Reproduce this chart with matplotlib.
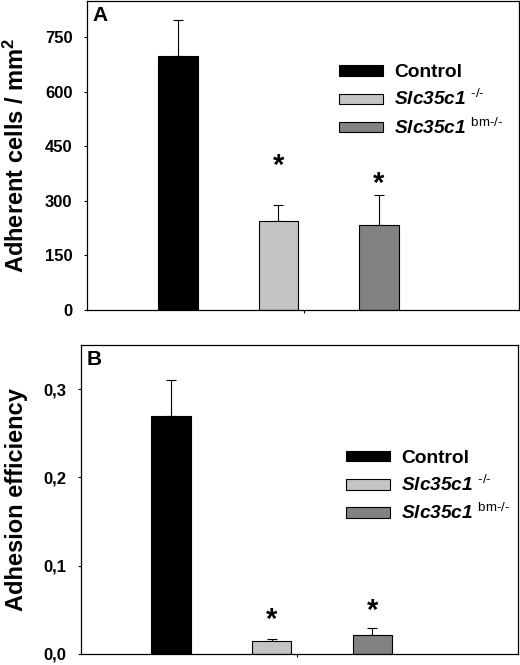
import matplotlib
matplotlib.use('Agg')
import matplotlib.pyplot as plt
from matplotlib.patches import Patch

plt.rcParams['font.family'] = 'Liberation Sans'
plt.rcParams['mathtext.fontset'] = 'custom'
plt.rcParams['mathtext.rm'] = 'Liberation Sans:italic:bold'
plt.rcParams['mathtext.it'] = 'Liberation Sans:italic:bold'
plt.rcParams['mathtext.bf'] = 'Liberation Sans:bold'
plt.rcParams['mathtext.sf'] = 'Liberation Sans'

groups = ['Control', '$Slc35c1$ $^{\\mathsf{\u2010/\u2010}}$', '$Slc35c1$ $^{\\mathsf{bm\u2010/\u2010}}$']
colors = ['black', '#c4c4c4', '#828282']

# panel A: adherent cells / mm2
cells = [698, 245, 235]
cells_err = [100, 45, 80]
star_a = [None, 374, 324]

# panel B: adhesion efficiency
eff = [0.27, 0.015, 0.021]
eff_err = [0.04, 0.002, 0.008]
star_b = [None, 0.0294, 0.0396]

fig = plt.figure(figsize=(5.2, 6.65), dpi=100)
ax1 = fig.add_axes([87/520, 355/665, 432/520, 309/665])
ax2 = fig.add_axes([81/520, 11/665, 437/520, 309/665])

x = [0, 1, 2]


def panel(ax, vals, errs, stars, ylim, yticks, yticklabels, ylabel, letter, xlim, leg_xy):
    ax.bar(x, vals, width=0.39, color=colors, edgecolor='black', linewidth=0.8, zorder=2)
    ax.errorbar(x, vals, yerr=[[0, 0, 0], errs], fmt='none', ecolor='black',
                elinewidth=0.8, capsize=3.5, capthick=0.8, zorder=1)
    for xi, s in zip(x, stars):
        if s is not None:
            ax.text(xi, s, '*', ha='center', va='baseline', fontsize=21, fontweight='bold')
    ax.set_xlim(*xlim)
    ax.set_ylim(*ylim)
    ax.set_yticks(yticks)
    ax.set_yticklabels(yticklabels, fontsize=12, fontweight='bold')
    ax.set_xticks([1.25])
    ax.set_xticklabels([''])
    ax.tick_params(axis='both', direction='out', length=2.5, width=0.8, pad=8)
    for sp in ax.spines.values():
        sp.set_linewidth(0.9)
    ax.set_ylabel(ylabel, fontsize=17, fontweight='bold')
    ax.text(0.012, 0.985, letter, transform=ax.transAxes, ha='left', va='top',
            fontsize=15, fontweight='bold')
    handles = [Patch(facecolor=c, edgecolor='black', linewidth=0.8) for c in colors]
    leg = ax.legend(handles, groups, loc='upper left', bbox_to_anchor=leg_xy,
                    frameon=False, fontsize=13.8, handlelength=2.3, handleheight=0.45,
                    handletextpad=0.6, labelspacing=0.42, borderpad=0, borderaxespad=0)
    leg.get_texts()[0].set_fontweight('bold')


panel(ax1, cells, cells_err, star_a, (0, 850), [0, 150, 300, 450, 600, 750],
      ['0', '150', '300', '450', '600', '750'], r'Adherent cells / mm$\mathbf{^2}$', 'A',
      (-0.905, 3.393), (0.583, 0.795))
ax1.yaxis.set_label_coords(-0.134, 0.5)

panel(ax2, eff, eff_err, star_b, (0, 0.35), [0, 0.1, 0.2, 0.3],
      ['0,0', '0,1', '0,2', '0,3'], 'Adhesion efficiency', 'B',
      (-0.896, 3.45), (0.606, 0.66))
ax2.yaxis.set_label_coords(-0.122, 0.5)

fig.savefig('out.png', dpi=100)
